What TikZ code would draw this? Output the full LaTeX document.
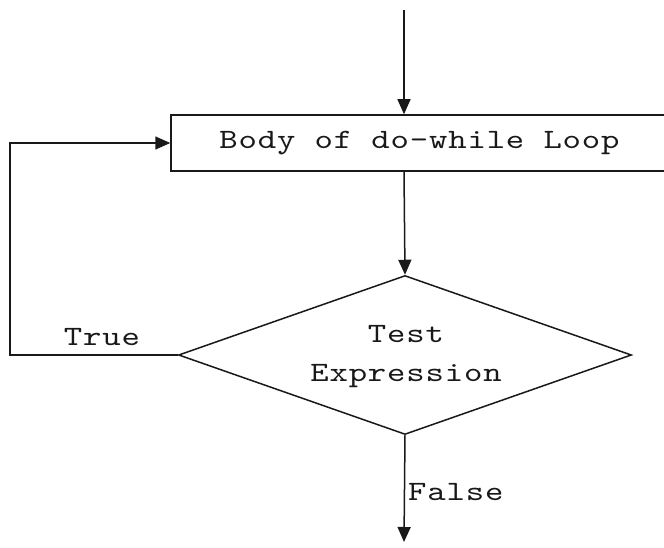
\documentclass[tikz,border=0pt]{standalone}
\usepackage{fontspec}
\newfontfamily\widemono{lmmono10-regular.otf}[FakeStretch=1.25, LetterSpace=3]
\usetikzlibrary{arrows.meta,shapes.geometric}
\begin{document}
\begin{tikzpicture}[x=1pt,y=-1pt,
  line/.style={draw=black!90, line width=1.5pt},
  flow/.style={line, -{Triangle[length=15pt,width=13pt]}},
  lbl/.style={font=\widemono\fontsize{28}{39}\selectfont, text=black!90, inner sep=0pt},
]
\useasboundingbox (0,0) rectangle (664,548);
\clip (0,0) rectangle (664,548);

% process box (runs past the right edge of the page)
\node[line, rectangle, minimum width=510pt, minimum height=56pt, inner sep=0pt] (box) at (426,143) {};
\node[lbl, anchor=base] (bodytxt) at (419.5,149) {Body of do-while Loop};

% decision
\node[line, diamond, minimum width=453pt, minimum height=159pt, inner sep=0pt] (dia) at (405,355) {};
\node[lbl, align=center] (cond) at (406,357) {Test\\Expression};

% flow coordinates
\coordinate (start) at (404,10);
\coordinate (loopx) at (10,356);
\coordinate (finish) at (404,542);

\draw[flow] (start) -- (start |- box.north);
\draw[flow] (start |- box.south) -- (dia.north);
\draw[flow] (dia.west) -- (dia.west -| loopx) -- (loopx |- box.west) -- (box.west);
\draw[flow] (dia.south) -- (finish);

% branch labels
\node[lbl, anchor=base] (truelbl) at (102,345) {True};
\node[lbl, anchor=base west] (falselbl) at (408,500) {False};
\end{tikzpicture}
\end{document}
